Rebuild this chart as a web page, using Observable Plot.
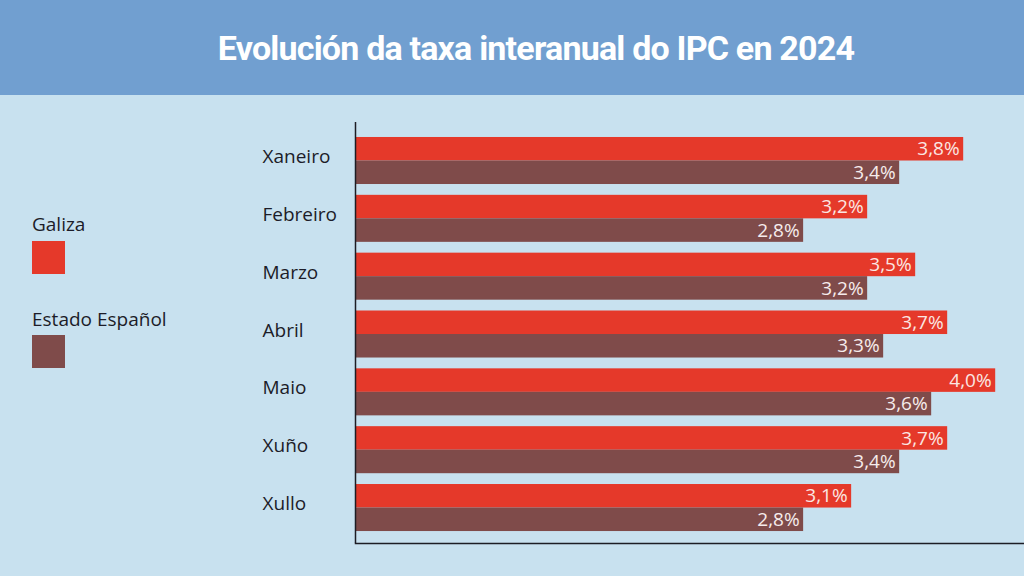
<!DOCTYPE html>
<html><head><meta charset="utf-8">
<script src="https://cdn.jsdelivr.net/npm/d3@7"></script>
<script src="https://cdn.jsdelivr.net/npm/@observablehq/plot@0.6"></script>
<style>
html,body{margin:0;padding:0;width:1024px;height:576px;overflow:hidden;background:#c8e1ef;font-family:"Open Sans",sans-serif;}
#header{position:absolute;left:0;top:0;width:1024px;height:95px;background:#719fd0;}
#title{position:absolute;left:24px;top:0;width:1024px;height:97px;line-height:97px;text-align:center;color:#fff;font-family:Roboto,sans-serif;font-weight:700;font-size:34px;letter-spacing:-0.8px;margin:0;}
.lg{position:absolute;left:32px;font-size:19px;color:#1c1c28;line-height:19px;white-space:nowrap;}
.sw{position:absolute;left:32px;width:33px;height:33px;}
#chart{position:absolute;left:0;top:95px;}
</style></head>
<body>
<div id="header"></div>
<h1 id="title">Evolución da taxa interanual do IPC en 2024</h1>
<div id="legend"></div>
<div id="chart"></div>
<script>
const months = ["Xaneiro","Febreiro","Marzo","Abril","Maio","Xuño","Xullo"];
const series = ["Galiza","Estado Español"];
const galiza = [3.8,3.2,3.5,3.7,4.0,3.7,3.1];
const estado = [3.4,2.8,3.2,3.3,3.6,3.4,2.8];
const colors = ["#e5392a","#7f4b4a"];

const rows = [];
months.forEach((m,i)=>{
  rows.push({month:m, series:series[0], value:galiza[i]});
  rows.push({month:m, series:series[1], value:estado[i]});
});
const fmt = v => d3.format(".1f")(v).replace(".", ",") + "%";

// legend
const legend = document.getElementById("legend");
const lgTops = [215, 310];
const swTops = [241, 335];
series.forEach((s,i)=>{
  const t = document.createElement("div");
  t.className = "lg"; t.textContent = s; t.style.top = lgTops[i] + "px";
  legend.appendChild(t);
  const sw = document.createElement("div");
  sw.className = "sw"; sw.style.background = colors[i]; sw.style.top = swTops[i] + "px";
  legend.appendChild(sw);
});

const half = 23.5;
const g = rows.filter(d => d.series === series[0]);
const e = rows.filter(d => d.series === series[1]);

const chart = Plot.plot({
  width: 1024, height: 481,
  marginLeft: 355, marginRight: 0, marginTop: 27, marginBottom: 33,
  style: {background: "transparent", overflow: "visible", fontFamily: "Open Sans"},
  x: {domain: [0, 4.18], axis: null},
  y: {domain: months, axis: null, paddingInner: 0.187, paddingOuter: 0.233, align: 0.556, round: false},
  color: {domain: series, range: colors},
  marks: [
    Plot.barX(g, {x: "value", y: "month", fill: "series", insetBottom: half}),
    Plot.barX(e, {x: "value", y: "month", fill: "series", insetTop: half}),
    Plot.text(g, {x: "value", y: "month", text: d => fmt(d.value), dy: -half/2, dx: -4, textAnchor: "end", fill: "#fbe6e2", fontSize: 19}),
    Plot.text(e, {x: "value", y: "month", text: d => fmt(d.value), dy: half/2, dx: -4, textAnchor: "end", fill: "#f6ecec", fontSize: 19}),
    Plot.text(months, {y: d => d, text: d => d, frameAnchor: "left", dx: -93, dy: -4, textAnchor: "start", fill: "#1c1c28", fontSize: 19}),
    Plot.ruleX([0], {stroke: "#1d1d24", strokeWidth: 1.5}),
    Plot.frame({anchor: "bottom", stroke: "#1d1d24", strokeWidth: 1.5})
  ]
});
document.getElementById("chart").appendChild(chart);
</script>
</body></html>
